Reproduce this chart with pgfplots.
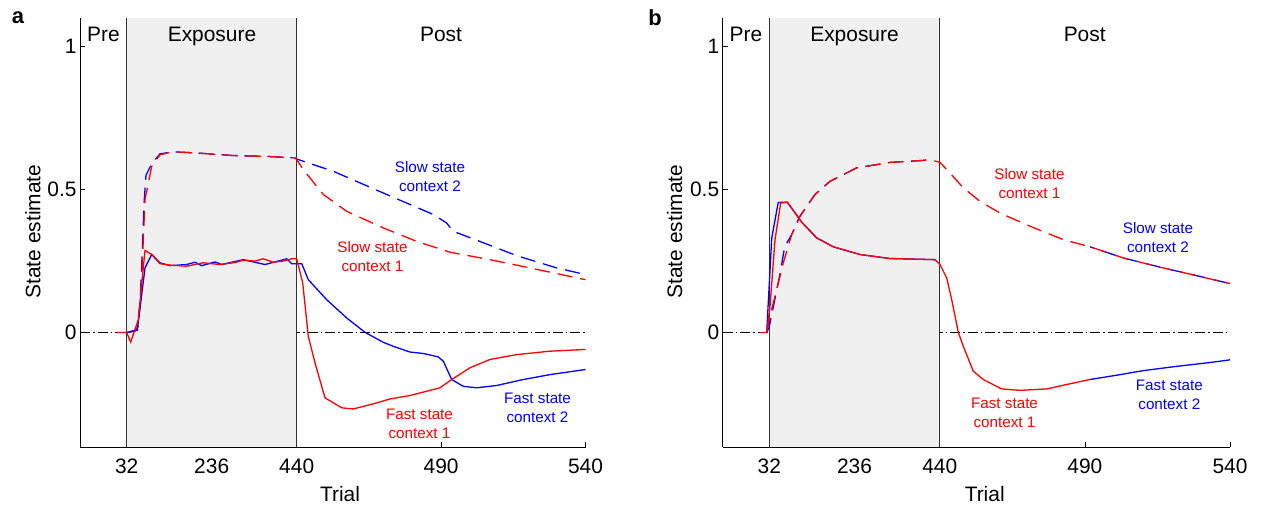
\documentclass[border=0pt]{standalone}
\usepackage{fontspec}
\setmainfont{Liberation Sans}
\usepackage{pgfplots}
\pgfplotsset{compat=1.18}
\definecolor{cred}{RGB}{255,0,0}
\definecolor{cblue}{RGB}{0,0,255}
\definecolor{patch}{RGB}{240,240,240}
\tikzset{
 fast/.style={line width=1.3bp},
 slow/.style={line width=1.3bp, dash pattern=on 15bp off 8bp},
 zero/.style={black, line width=0.8bp, dash pattern=on 10bp off 3bp on 1.5bp off 3bp},
 region/.style={font=\fontsize{21}{25}\selectfont, anchor=base},
 annot/.style={font=\fontsize{15.3}{18.7}\selectfont, align=center, anchor=center},
}
\pgfplotsset{
 panel/.style={
  x=1bp, y=286bp, xmin=0, ymin=-0.4, ymax=1.1,
  axis x line*=bottom, axis y line*=left,
  axis line style={line width=0.8bp, black},
  tick align=inside, major tick length=5bp,
  tick style={line width=0.8bp, black},
  ytick={0,0.5,1}, yticklabels={0,0.5,1},
  xticklabels={32,236,440,490,540},
  tick label style={font=\fontsize{21}{25}\selectfont},
  xticklabel style={yshift=-8bp},
  clip=false,
 },
}
\begin{document}
\begin{tikzpicture}[x=1bp,y=1bp]
\path[use as bounding box] (0,0) rectangle (1261,511);
\node[font=\fontsize{22}{26}\selectfont\bfseries] at (18,493) {a};
\node[font=\fontsize{22}{26}\selectfont\bfseries] at (655,493) {b};

% ---------------- panel a ----------------
\begin{axis}[panel, at={(80bp,64bp)}, anchor=south west, xmax=505.5,
  xtick={46.7,131.7,216.7,361.1,505.5}]
\addplot[zero] coordinates {(0,0) (505.5,0)};
\fill[patch] (axis cs:46.7,-0.4) rectangle (axis cs:216.7,1.1);
\draw[black!80, line width=0.8bp] (axis cs:46.7,-0.4) -- (axis cs:46.7,1.1);
\draw[black!80, line width=0.8bp] (axis cs:216.7,-0.4) -- (axis cs:216.7,1.1);
% blue slow
\addplot[slow, cblue] coordinates {(46.7,0) (57,0.01) (60,0.1) (62.5,0.3) (64,0.45) (66,0.55) (71.7,0.59) (80,0.625) (93.3,0.632) (116.7,0.628) (153.3,0.619) (186.7,0.616) (215,0.611) (216.7,0.607) (226.7,0.595) (253.3,0.564) (303.3,0.488) (353.3,0.413) (366.7,0.383) (373.3,0.354) (396.7,0.323) (436.7,0.269) (476.7,0.226) (505.5,0.203)};
% red slow
\addplot[slow, cred] coordinates {(46.7,0) (55,0.005) (58.3,0.022) (61.7,0.185) (63.3,0.325) (65,0.465) (71.7,0.581) (80,0.622) (93.3,0.632) (116.7,0.628) (153.3,0.619) (186.7,0.616) (215,0.611) (216.7,0.605) (223.3,0.570) (243.3,0.483) (266.7,0.424) (303.3,0.366) (336.7,0.319) (370,0.281) (410,0.255) (450,0.226) (505.5,0.185)};
% blue fast
\addplot[fast, cblue] coordinates {(44,0) (46.7,0) (57.3,0.008) (65,0.226) (71.7,0.273) (80,0.244) (90,0.234) (106.7,0.238) (115,0.246) (121.7,0.234) (135,0.247) (141.7,0.238) (163.3,0.255) (185,0.238) (206.7,0.258) (211.7,0.241) (221.7,0.241) (228.3,0.185) (246.7,0.115) (266.7,0.051) (285,0.001) (303.3,-0.034) (313.3,-0.048) (330,-0.068) (343.3,-0.073) (358.3,-0.085) (363.3,-0.100) (371.7,-0.164) (383.3,-0.188) (396.7,-0.193) (416.7,-0.185) (443.3,-0.164) (470,-0.147) (505.5,-0.129)};
% red fast
\addplot[fast, cred] coordinates {(37.3,0) (46.7,0) (50.7,-0.033) (58.3,0.045) (61.7,0.17) (65,0.287) (71.7,0.273) (80,0.241) (90,0.236) (106.7,0.232) (123,0.244) (140,0.238) (155,0.245) (163.3,0.253) (175,0.250) (183.3,0.258) (193.3,0.246) (203,0.250) (211.7,0.258) (216.7,0.258) (222.7,0.174) (228.3,-0.013) (235,-0.106) (245,-0.228) (261.7,-0.263) (273.3,-0.267) (296.7,-0.246) (310,-0.232) (330,-0.220) (346.7,-0.205) (360,-0.193) (371.7,-0.164) (390,-0.123) (410,-0.094) (436.7,-0.077) (470,-0.065) (505.5,-0.059)};
\node[region] at (axis cs:23.5,1.0185) {Pre};
\node[region] at (axis cs:132,1.0185) {Exposure};
\node[region] at (axis cs:361,1.0185) {Post};
\node[annot, cblue] at (axis cs:350,0.545) {Slow state\\context 2};
\node[annot, cred] at (axis cs:292.5,0.266) {Slow state\\context 1};
\node[annot, cred] at (axis cs:339.5,-0.318) {Fast state\\context 1};
\node[annot, cblue] at (axis cs:457.5,-0.262) {Fast state\\context 2};
\node[font=\fontsize{21}{25}\selectfont] at (axis cs:260,-0.566) {Trial};
\node[font=\fontsize{21}{25}\selectfont, rotate=90] at (axis cs:-47,0.353) {State estimate};
\end{axis}

% ---------------- panel b ----------------
\begin{axis}[panel, at={(722.7bp,64bp)}, anchor=south west, xmax=507.3,
  xtick={46.6,131.8,217,362.2,507.3}]
\addplot[zero] coordinates {(0,0) (507.3,0)};
\fill[patch] (axis cs:46.6,-0.4) rectangle (axis cs:217,1.1);
\draw[black!80, line width=0.8bp] (axis cs:46.6,-0.4) -- (axis cs:46.6,1.1);
\draw[black!80, line width=0.8bp] (axis cs:217,-0.4) -- (axis cs:217,1.1);
% blue slow (exposure)
\addplot[slow, cblue] coordinates {(44,0) (46.5,0.02) (57,0.20) (62,0.3) (69,0.343) (77.3,0.407) (92.3,0.483) (107.3,0.529) (134,0.576) (167.3,0.595) (200.6,0.602) (207.3,0.605)};
% blue slow (post, after switch)
\addplot[slow, cblue, dash phase=11bp] coordinates {(367.3,0.300) (400.6,0.261) (440.6,0.226) (474,0.199) (504,0.174) (507.3,0.172)};
% red slow
\addplot[slow, cred] coordinates {(44,0) (47.3,0.057) (60.6,0.244) (69,0.343) (77.3,0.407) (92.3,0.483) (107.3,0.529) (134,0.576) (167.3,0.595) (200.6,0.602) (207.3,0.605) (217.3,0.595) (227.3,0.558) (240.6,0.506) (257.3,0.459) (277.3,0.418) (307.3,0.372) (340.6,0.325) (367.3,0.300) (400.6,0.261) (440.6,0.226) (474,0.199) (504,0.174) (507.3,0.172)};
% blue fast (exposure)
\addplot[fast, cblue] coordinates {(44,0) (45.5,0.1) (49,0.33) (55.5,0.455) (64.6,0.456) (79,0.386) (94,0.331) (110.6,0.300) (137.3,0.273) (167.3,0.259) (212.3,0.255)};
% red fast
\addplot[fast, cred] coordinates {(37.3,0) (44,0) (47.3,0.092) (52.3,0.325) (58,0.453) (64.6,0.456) (79,0.386) (94,0.331) (110.6,0.300) (137.3,0.273) (167.3,0.259) (212.3,0.255) (217.3,0.238) (224,0.191) (229,0.115) (235.6,0.001) (240.6,-0.048) (250.6,-0.135) (260.6,-0.164) (270.6,-0.182) (279,-0.197) (297.3,-0.202) (324,-0.197) (347.3,-0.179) (367.3,-0.164)};
% blue fast (post, after switch)
\addplot[fast, cblue] coordinates {(367.3,-0.164) (394,-0.149) (420.6,-0.133) (454,-0.118) (484,-0.106) (504,-0.097) (507.3,-0.095)};
\node[region] at (axis cs:23.3,1.0185) {Pre};
\node[region] at (axis cs:131.8,1.0185) {Exposure};
\node[region] at (axis cs:362,1.0185) {Post};
\node[annot, cred] at (axis cs:306.8,0.521) {Slow state\\context 1};
\node[annot, cblue] at (axis cs:435.3,0.332) {Slow state\\context 2};
\node[annot, cred] at (axis cs:281.8,-0.281) {Fast state\\context 1};
\node[annot, cblue] at (axis cs:446.6,-0.217) {Fast state\\context 2};
\node[font=\fontsize{21}{25}\selectfont] at (axis cs:262,-0.566) {Trial};
\node[font=\fontsize{21}{25}\selectfont, rotate=90] at (axis cs:-48,0.353) {State estimate};
\end{axis}
\end{tikzpicture}
\end{document}
